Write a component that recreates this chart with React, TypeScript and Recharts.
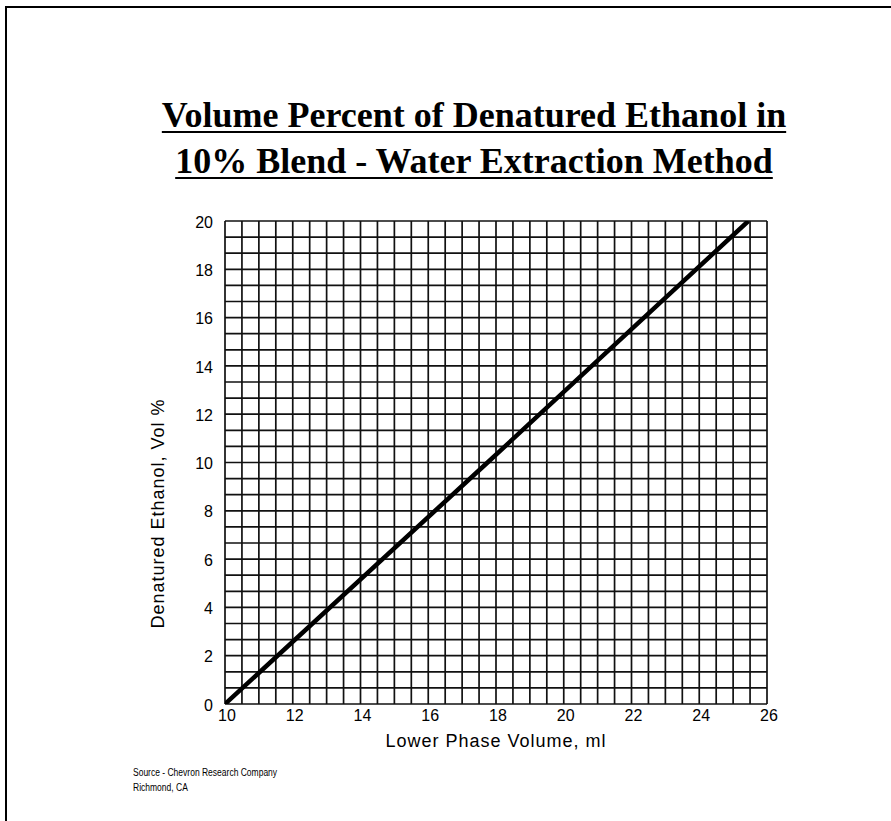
import React from "react";
import {
  LineChart, Line, XAxis, YAxis, CartesianGrid, Label,
} from "recharts";

// values (line runs from 10 ml / 0 % to the top edge)
const lowerPhaseMl = [10, 17.75, 25.45];
const ethanolPct   = [0, 10, 20];

const xTicks = [10, 12, 14, 16, 18, 20, 22, 24, 26];
const yTicks = [0, 2, 4, 6, 8, 10, 12, 14, 16, 18, 20];

// graph paper: 0.5 ml columns, 2/3 vol% rows
const xGrid = Array.from({ length: 33 }, (_, i) => 10 + i * 0.5);
const yGrid = Array.from({ length: 31 }, (_, i) => (i * 2) / 3);

const data = lowerPhaseMl.map((x, i) => ({ x, y: ethanolPct[i] }));

const SANS = "'Liberation Sans', Arial, Helvetica, sans-serif";
const SERIF = "'Liberation Serif', 'Times New Roman', serif";

const tickStyle = { fill: "#000", fontSize: 16, fontFamily: SANS };

export default function App() {
  return (
    <div style={{
      position: "fixed", left: 0, top: 0, width: 891, height: 821,
      overflow: "hidden", background: "#fff",
    }}>
      {/* page frame, only top/left edges fall inside the view */}
      <div style={{
        position: "absolute", left: 5, top: 6, width: 1000, height: 1000,
        border: "2px solid #000", boxSizing: "border-box",
      }} />

      <div style={{
        position: "absolute", left: 0, top: 92, width: 948,
        textAlign: "center", fontFamily: SERIF, fontWeight: "bold",
        fontSize: 36, lineHeight: "46px", color: "#000",
        textDecoration: "underline", textDecorationThickness: 2,
        textUnderlineOffset: 4,
      }}>
        <div>Volume Percent of Denatured Ethanol in</div>
        <div>10% Blend - Water Extraction Method</div>
      </div>

      <div style={{ position: "absolute", left: 0, top: 0 }}>
        <LineChart
          width={891} height={821} data={data}
          margin={{ top: 221, right: 124, bottom: 57, left: 0 }}
        >
          <CartesianGrid
            stroke="#111" strokeWidth={1.7}
            verticalValues={xGrid} horizontalValues={yGrid}
          />
          <XAxis
            type="number" dataKey="x" domain={[10, 26]} ticks={xTicks}
            allowDataOverflow axisLine={false} tickLine={false}
            tickSize={0} tickMargin={6} height={60} tick={{ ...tickStyle, dx: 2 }}
            interval={0}
          >
            <Label
              value="Lower Phase Volume, ml" position="insideBottom" offset={17}
              style={{ fill: "#000", fontSize: 18, fontFamily: SANS, letterSpacing: 1 }}
            />
          </XAxis>
          <YAxis
            type="number" domain={[0, 20]} ticks={yTicks}
            allowDataOverflow axisLine={false} tickLine={false}
            tickSize={0} tickMargin={12} width={225} tick={{ ...tickStyle, dy: 1 }}
            interval={0}
          >
            <Label
              content={({ viewBox }: any) => {
                const cy = viewBox.y + viewBox.height / 2 + 51;
                return (
                  <text
                    x={158} y={cy} transform={`rotate(-90 158 ${cy})`}
                    textAnchor="middle" dominantBaseline="central"
                    style={{ fill: "#000", fontSize: 18, fontFamily: SANS, letterSpacing: 1 }}
                  >
                    Denatured Ethanol, Vol %
                  </text>
                );
              }}
            />
          </YAxis>
          <Line
            type="linear" dataKey="y" stroke="#000" strokeWidth={4.5}
            dot={false} isAnimationActive={false}
          />
        </LineChart>
      </div>

      <div style={{
        position: "absolute", left: 133, top: 765, fontFamily: SANS,
        fontSize: 10, lineHeight: "15px", color: "#000",
        transform: "scaleX(0.85)", transformOrigin: "left top",
        whiteSpace: "nowrap",
      }}>
        <div>Source - Chevron Research Company</div>
        <div>Richmond, CA</div>
      </div>
    </div>
  );
}
